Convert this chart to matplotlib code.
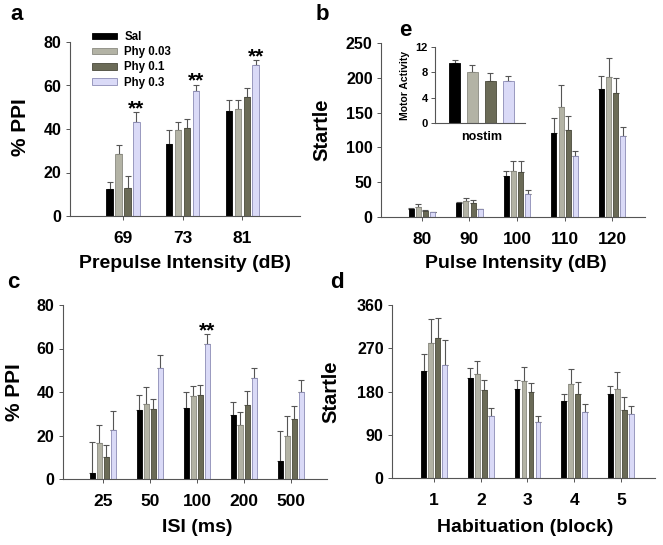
#!/usr/bin/env python3
# -*- coding: utf-8 -*-
'''
Grouped bar panels (a-e): PPI, startle, ISI, habituation and motor activity.
'''

import numpy as np
import matplotlib
matplotlib.use('Agg')
import matplotlib.pyplot as plt

# groups and colours
GROUPS = ['Sal', 'Phy 0.03', 'Phy 0.1', 'Phy 0.3']
FACE = ['#000000', '#b3b3a5', '#6b6b57', '#dadaf7']
EDGE = ['#000000', '#8a8a80', '#4a4a3c', '#8c8cb5']

# panel a - prepulse intensity
a_labels = ['69', '73', '81']
a_sal = [12.4, 33.3, 48.3]
a_p003 = [28.7, 39.4, 49.2]
a_p01 = [13.1, 40.5, 54.9]
a_p03 = [43.0, 57.3, 69.6]
a_sal_err = [3.3, 6.1, 5.2]
a_p003_err = [4.1, 4.0, 4.0]
a_p01_err = [5.2, 4.1, 4.0]
a_p03_err = [4.6, 3.1, 2.1]

# panel b - pulse intensity
b_labels = ['80', '90', '100', '110', '120']
b_sal = [12, 20, 59, 121, 184]
b_p003 = [15, 22.5, 66, 158, 201]
b_p01 = [9, 20, 64, 125, 178]
b_p03 = [7, 11, 33, 87, 117]
b_sal_err = [1, 1.5, 7, 21, 19]
b_p003_err = [3, 5.5, 14, 32, 28]
b_p01_err = [0.5, 4, 16, 20, 21]
b_p03_err = [0.5, 1, 6, 8, 13]

# panel c - ISI
c_labels = ['25', '50', '100', '200', '500']
c_sal = [2.8, 31.5, 32.7, 29.2, 8.4]
c_p003 = [16.7, 34.6, 38.2, 24.9, 19.9]
c_p01 = [9.9, 32.3, 38.7, 33.9, 27.8]
c_p03 = [22.6, 50.9, 62.1, 46.5, 39.9]
c_sal_err = [14.2, 7.0, 7.1, 6.0, 13.5]
c_p003_err = [7.9, 7.6, 4.6, 5.8, 9.2]
c_p01_err = [5.7, 4.4, 4.4, 6.5, 5.8]
c_p03_err = [8.6, 6.3, 4.6, 4.4, 5.7]

# panel d - habituation
d_labels = ['1', '2', '3', '4', '5']
d_sal = [223, 208, 185, 161, 174]
d_p003 = [280, 216, 202, 196, 186]
d_p01 = [292, 183, 178, 174, 142]
d_p03 = [235, 130, 116, 137, 134]
d_sal_err = [35, 20, 19, 13, 18]
d_p003_err = [50, 28, 28, 30, 34]
d_p01_err = [40, 21, 19, 25, 26]
d_p03_err = [52, 16, 14, 17, 16]

# panel e - motor activity (inset)
e_vals = [9.4, 8.1, 6.7, 6.6]
e_err = [0.6, 1.0, 1.2, 0.9]

W, H = 663, 545

plt.rcParams['font.family'] = ['Liberation Sans', 'DejaVu Sans']
plt.rcParams['font.weight'] = 'bold'
plt.rcParams['axes.labelweight'] = 'bold'

fig = plt.figure(figsize=(W / 100, H / 100), dpi=100)


def px_axes(left, right, top, bottom):
    '''Axes from pixel edges.'''
    return fig.add_axes([left / W, 1 - bottom / H, (right - left) / W,
                         (bottom - top) / H])


def style(ax, ylim, yticks, labels, xlim, xsize=12.5, ysize=11.5):
    for s in ['top', 'right']:
        ax.spines[s].set_visible(False)
    for s in ['left', 'bottom']:
        ax.spines[s].set_color('#555555')
        ax.spines[s].set_linewidth(0.8)
    ax.set_ylim(*ylim)
    ax.set_yticks(yticks)
    ax.set_xlim(*xlim)
    ax.set_xticks(np.arange(len(labels)))
    ax.set_xticklabels(labels)
    ax.tick_params(axis='x', length=3, width=0.7, color='#555555',
                   labelsize=xsize, pad=8)
    ax.tick_params(axis='y', length=3, width=0.7, color='#555555',
                   labelsize=ysize, pad=3)


def bars(ax, series, errs, step=0.15, width=0.105):
    x = np.arange(len(series[0]))
    for i, (vals, err) in enumerate(zip(series, errs)):
        pos = x + (i - 1.5) * step
        ax.bar(pos, vals, width, color=FACE[i], edgecolor=EDGE[i],
               linewidth=0.6, label=GROUPS[i], zorder=2)
        ax.errorbar(pos, vals, yerr=[np.zeros(len(vals)), err], fmt='none',
                    ecolor='#555555', elinewidth=0.8, capsize=2.2,
                    capthick=0.8, zorder=1)
    return x


# panel a
ax_a = px_axes(70, 300, 42, 216)
xa = bars(ax_a, [a_sal, a_p003, a_p01, a_p03],
          [a_sal_err, a_p003_err, a_p01_err, a_p03_err])
style(ax_a, (0, 80), [0, 20, 40, 60, 80], a_labels, (-0.89, 2.97))
for i in range(len(a_labels)):
    ax_a.text(xa[i] + 1.5 * 0.15, a_p03[i] + a_p03_err[i] + 1.5, '**',
              ha='center', va='center', fontsize=15)
ax_a.legend(loc='upper left', bbox_to_anchor=(0.06, 1.11), frameon=False,
            fontsize=8.3, handlelength=2.2, handleheight=0.5,
            handletextpad=0.6, labelspacing=0.28, borderaxespad=0.3)

# panel b
ax_b = px_axes(381, 645, 43, 217)
bars(ax_b, [b_sal, b_p003, b_p01, b_p03],
     [b_sal_err, b_p003_err, b_p01_err, b_p03_err])
style(ax_b, (0, 250), [0, 50, 100, 150, 200, 250], b_labels, (-0.86, 4.69))

# panel c
ax_c = px_axes(63, 327, 305, 479)
xc = bars(ax_c, [c_sal, c_p003, c_p01, c_p03],
          [c_sal_err, c_p003_err, c_p01_err, c_p03_err])
style(ax_c, (0, 80), [0, 20, 40, 60, 80], c_labels, (-0.85, 4.77))
ax_c.text(xc[2] + 1.5 * 0.15, c_p03[2] + c_p03_err[2] + 1.5, '**',
          ha='center', va='center', fontsize=15)

# panel d
ax_d = px_axes(392, 655, 305, 478)
bars(ax_d, [d_sal, d_p003, d_p01, d_p03],
     [d_sal_err, d_p003_err, d_p01_err, d_p03_err])
style(ax_d, (0, 360), [0, 90, 180, 270, 360], d_labels, (-0.9, 4.73))

# inset e
ax_e = px_axes(435, 525, 47, 123)
for i in range(4):
    ax_e.bar(i, e_vals[i], 0.62, color=FACE[i], edgecolor=EDGE[i],
             linewidth=0.6, zorder=2)
    ax_e.errorbar(i, e_vals[i], yerr=[[0], [e_err[i]]], fmt='none',
                  ecolor='#555555', elinewidth=0.8, capsize=2.5,
                  capthick=0.8, zorder=1)
for s in ['top', 'right']:
    ax_e.spines[s].set_visible(False)
for s in ['left', 'bottom']:
    ax_e.spines[s].set_color('#555555')
    ax_e.spines[s].set_linewidth(0.8)
ax_e.set_xlim(-1.1, 3.95)
ax_e.set_ylim(0, 12)
ax_e.set_yticks([0, 4, 8, 12])
ax_e.set_xticks([1.5])
ax_e.set_xticklabels(['nostim'])
ax_e.tick_params(axis='x', length=0, labelsize=9, pad=6)
ax_e.tick_params(axis='y', length=3, width=0.7, color='#555555',
                 labelsize=8, pad=2)
ax_e.set_facecolor('none')


# axis titles
def ftext(x, y, s, **kw):
    fig.text(x / W, 1 - y / H, s, ha='center', va='center', **kw)


ftext(185, 263, 'Prepulse Intensity (dB)', fontsize=14)
ftext(516, 263, 'Pulse Intensity (dB)', fontsize=14)
ftext(197, 527, 'ISI (ms)', fontsize=14)
ftext(525, 528, 'Habituation (block)', fontsize=14)

ftext(20, 127, '% PPI', fontsize=15, rotation=90)
ftext(322, 130, 'Startle', fontsize=14.5, rotation=90)
ftext(15, 392, '% PPI', fontsize=15, rotation=90)
ftext(331, 392, 'Startle', fontsize=14.5, rotation=90)
ftext(405, 85, 'Motor Activity', fontsize=7.5, rotation=90)

# panel letters
ftext(17, 15, 'a', fontsize=16)
ftext(322, 15, 'b', fontsize=16)
ftext(13, 283, 'c', fontsize=16)
ftext(337, 283, 'd', fontsize=16)
ftext(405, 30, 'e', fontsize=16)

fig.savefig('out.png', dpi=100)
